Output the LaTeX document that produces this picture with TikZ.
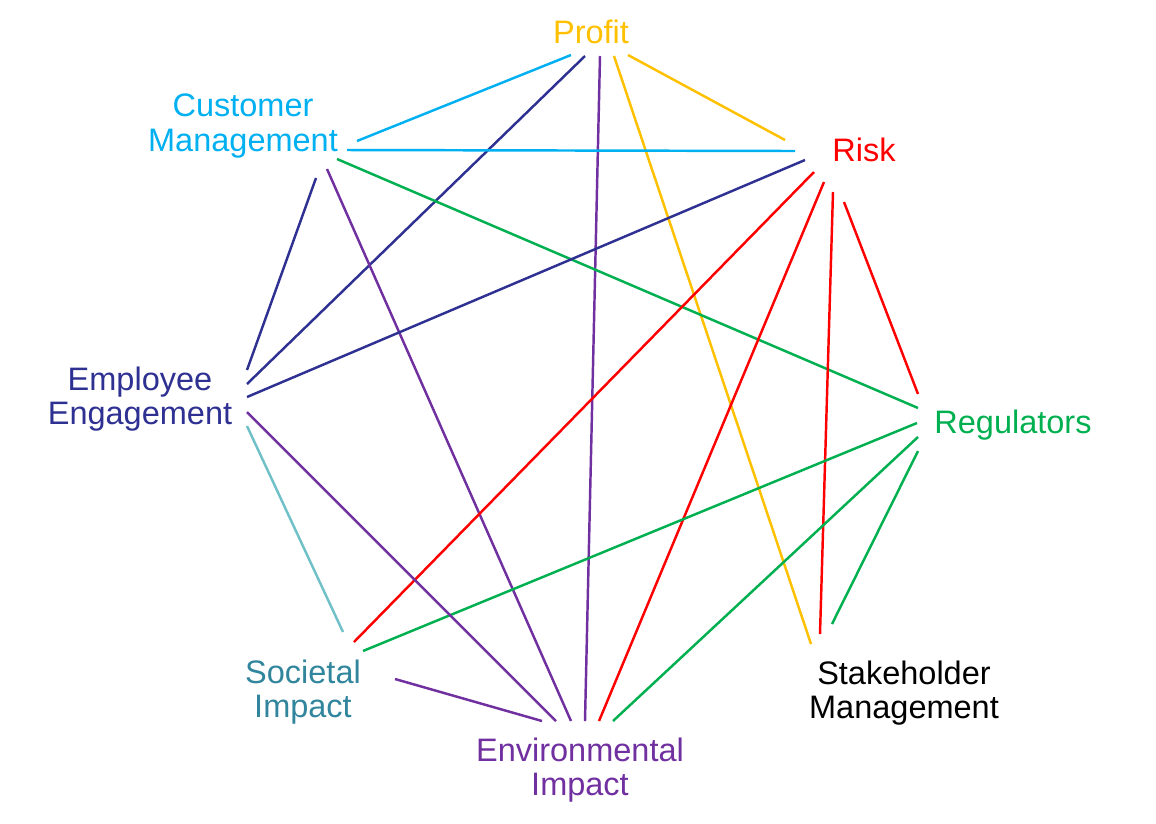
\documentclass[tikz,border=0pt]{standalone}
\usepackage{fontspec}
\setmainfont{Liberation Sans}
\definecolor{cprofit}{HTML}{FFC000}
\definecolor{ccyan}{HTML}{00B0F0}
\definecolor{cred}{HTML}{FF0000}
\definecolor{cgreen}{HTML}{00B050}
\definecolor{cnavy}{HTML}{2E3192}
\definecolor{cpurple}{HTML}{7030A0}
\definecolor{cteal}{HTML}{31859C}
\definecolor{clteal}{HTML}{70C0C8}
\begin{document}
\begin{tikzpicture}[x=0.02cm,y=-0.02cm,
  lbl/.style={inner sep=0pt,align=center,font=\fontsize{18.5pt}{19.4pt}\selectfont},
  link/.style={line width=1.4pt}]
\useasboundingbox (0,0) rectangle (1156,823);
% labels
\node[lbl,text=cprofit] (profit) at (591,32) {Profit};
\node[lbl,text=ccyan] (cust) at (243,126) {Customer\\Management};
\node[lbl,text=cred] (risk) at (864,150) {Risk};
\node[lbl,text=cgreen] (reg) at (1013,425) {Regulators};
\node[lbl,text=cnavy] (emp) at (140,399) {Employee\\Engagement};
\node[lbl,text=cteal] (soc) at (303,692) {Societal\\Impact};
\node[lbl,text=cpurple] (env) at (580,770) {Environmental\\Impact};
\node[lbl,text=black] (stk) at (904,693) {Stakeholder\\Management};
% end points
\coordinate (P1) at (571,55);  \coordinate (P2) at (585,56);
\coordinate (P3) at (600,56);  \coordinate (P4) at (614,56);
\coordinate (P5) at (628,55);
\coordinate (C1) at (357,141); \coordinate (C2) at (347,150);
\coordinate (C3) at (337,159); \coordinate (C4) at (327,169);
\coordinate (C5) at (316,178);
\coordinate (R1) at (785,140); \coordinate (R2) at (795,151);
\coordinate (R3) at (805,160); \coordinate (R4) at (814,172);
\coordinate (R5) at (824,182); \coordinate (R6) at (833,192);
\coordinate (R7) at (844,202);
\coordinate (G1) at (918,394); \coordinate (G2) at (918,408);
\coordinate (G3) at (917,423); \coordinate (G4) at (918,437);
\coordinate (G5) at (918,451);
\coordinate (E1) at (247,370); \coordinate (E2) at (247,384);
\coordinate (E3) at (247,397); \coordinate (E4) at (247,412);
\coordinate (E5) at (247,426);
\coordinate (S1) at (343,632); \coordinate (S2) at (354,642);
\coordinate (S3) at (363,651); \coordinate (S4) at (395,679);
\coordinate (V1) at (542,721); \coordinate (V2) at (556,721);
\coordinate (V3) at (571,721); \coordinate (V4) at (585,721);
\coordinate (V5) at (599,721); \coordinate (V6) at (613,721);
\coordinate (K1) at (811,644); \coordinate (K2) at (820,634);
\coordinate (K3) at (832,624);
% connectors
\draw[link,ccyan] (P1) -- (C1);
\draw[link,cnavy] (P2) -- (E2);
\draw[link,cpurple] (P3) -- (V4);
\draw[link,cprofit] (P4) -- (K1);
\draw[link,cprofit] (P5) -- (R1);
\draw[link,ccyan] (C2) -- (R2);
\draw[link,cgreen] (C3) -- (G2);
\draw[link,cpurple] (C4) -- (V3);
\draw[link,cnavy] (C5) -- (E1);
\draw[link,cnavy] (R3) -- (E3);
\draw[link,cred] (R4) -- (S2);
\draw[link,cred] (R5) -- (V5);
\draw[link,cred] (R6) -- (K2);
\draw[link,cred] (R7) -- (G1);
\draw[link,cgreen] (G3) -- (S3);
\draw[link,cgreen] (G4) -- (V6);
\draw[link,cgreen] (G5) -- (K3);
\draw[link,cpurple] (E4) -- (V2);
\draw[link,clteal] (E5) -- (S1);
\draw[link,cpurple] (S4) -- (V1);
\end{tikzpicture}
\end{document}
